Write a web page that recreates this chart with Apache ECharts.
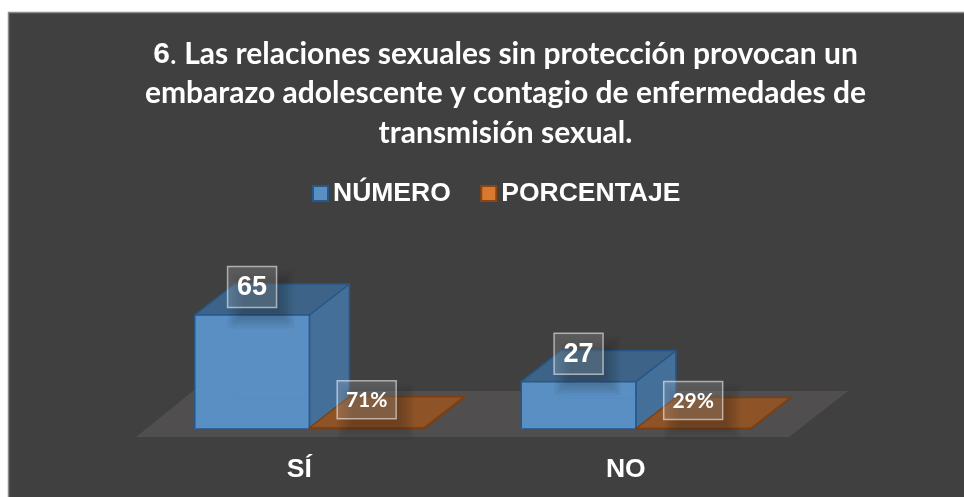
<!DOCTYPE html>
<html>
<head>
<meta charset="utf-8">
<style>html,body{margin:0;padding:0;background:#fff}#c{width:964px;height:497px}</style>
<script src="https://cdn.jsdelivr.net/npm/echarts@6/dist/echarts.min.js"></script>
</head>
<body>
<div id="c"></div>
<script>
const categories = ['SÍ', 'NO'];
const numero = [65, 27];
const porcentaje = [0.71, 0.29];
const seriesNames = ['NÚMERO', 'PORCENTAJE'];

const chart = echarts.init(document.getElementById('c'), null, {renderer: 'canvas'});
const DX = 40, DY = -31;           // depth of the 3D projection
const BAR_FROM = 0.18, BAR_W = 0.351;

function face(points, fill, stroke, lw) {
  return {type: 'polygon', shape: {points}, style: {fill, stroke, lineWidth: lw === undefined ? 1.5 : lw, lineJoin: 'round'}, silent: true};
}
function labelGroup(cx, top, text, w, h, font) {
  const cy = top - 28;
  const out = [];
  // soft shadow under the label
  for (let i = 0; i < 8; i++) {
    const g = 9 - i * 2.2;
    out.push({type: 'rect', shape: {x: cx - w / 2 + 9 - g, y: cy - h / 2 + 12 - g, width: w + 2 * g, height: h + 2 * g, r: 2},
      style: {fill: 'rgba(20,25,35,0.04)'}, silent: true});
  }
  out.push({type: 'rect', shape: {x: cx - w / 2, y: cy - h / 2, width: w, height: h},
    style: {fill: 'rgba(255,255,255,0.15)', stroke: 'rgba(255,255,255,0.55)', lineWidth: 1.5}, silent: true});
  out.push({type: 'text', style: {x: cx, y: cy + 0.5, text, fill: '#fff', font, align: 'center', verticalAlign: 'middle'}, silent: true});
  return out;
}
function boxItem(offset, colors, labelFn, w, h, font) {
  return function (params, api) {
    const cat = api.value(0), val = api.value(1);
    const band = api.size([1, 0])[0];
    const base = api.coord([cat, 0]);
    const topPt = api.coord([cat, val]);
    const bw = band * BAR_W;
    const x0 = base[0] - band / 2 + band * BAR_FROM + offset * bw, x1 = x0 + bw;
    const y0 = base[1], y1 = topPt[1];
    const children = [];
    children.push(face([[x1, y1], [x1 + DX, y1 + DY], [x1 + DX, y0 + DY], [x1, y0]], colors.side, colors.edge));
    children.push(face([[x0, y1], [x0 + DX, y1 + DY], [x1 + DX, y1 + DY], [x1, y1]], colors.top, colors.edge));
    children.push(face([[x0, y1], [x1, y1], [x1, y0], [x0, y0]], colors.front, colors.edge));
    if (colors.inner && y1 < y0 + DY) {
      children.push({type: 'polyline', shape: {points: [[x0, y0], [x0 + DX, y0 + DY], [x1, y0 + DY]]}, style: {stroke: colors.inner, lineWidth: 1, fill: 'none'}, silent: true});
      children.push({type: 'line', shape: {x1: x0 + DX, y1: y1, x2: x0 + DX, y2: y0 + DY}, style: {stroke: colors.inner, lineWidth: 1}, silent: true});
    }
    return {type: 'group', children: children.concat(labelGroup((x0 + x1) / 2, y1, labelFn(val), w, h, font))};
  };
}

const blue = {front: '#5a8fc3', side: '#436f99', top: '#3d6488', edge: '#28578a', inner: 'rgba(80,140,200,0.55)'};
const orange = {front: '#a0581f', side: '#8c5226', top: '#8e5428', edge: '#7c3f11'};

const titleText = '{n|6}{d|.}{t| Las relaciones sexuales sin protección provocan un}\n' +
  '{t|embarazo adolescente y contagio de enfermedades de}\n' +
  '{t|transmisión sexual.}';

chart.setOption({
  animation: false,
  backgroundColor: '#ffffff',
  graphic: [{type: 'rect', z: -10, silent: true, shape: {x: 8.5, y: 12.5, width: 970, height: 500},
    style: {fill: '#404040', stroke: '#8a8a8a', lineWidth: 1.5}}],
  title: {
    text: titleText, left: 500.5, top: 29.5, textAlign: 'center',
    textStyle: {
      rich: {
        n: {fontFamily: 'Liberation Sans', fontWeight: 'bold', fontSize: 30, color: '#fff', lineHeight: 39.5},
        d: {fontFamily: 'Lato', fontWeight: 'normal', fontSize: 30, color: '#fff', lineHeight: 39.5},
        t: {fontFamily: 'Lato', fontWeight: 'bold', fontSize: 30, color: '#fff', lineHeight: 39.5}
      }
    }
  },
  legend: {
    data: seriesNames, left: 312, top: 180, padding: 0, itemWidth: 15, itemHeight: 15, itemGap: 29.5,
    icon: 'rect',
    textStyle: {fontFamily: 'Liberation Sans', fontWeight: 'bold', fontSize: 26.5, color: '#fff', padding: [0, 0, 0, 0]}
  },
  grid: {left: 136, width: 653, top: 253.6, height: 175.4, containLabel: false},
  xAxis: {
    type: 'category', data: categories,
    axisLine: {show: false}, axisTick: {show: false}, splitLine: {show: false},
    axisLabel: {margin: 27, color: '#fff', fontFamily: 'Liberation Sans', fontWeight: 'bold', fontSize: 26.5}
  },
  yAxis: {type: 'value', min: 0, max: 100, show: false},
  series: [
    {
      name: 'floor', type: 'custom', data: [[0, 0]], z: 1, silent: true,
      renderItem: function (params, api) {
        const cs = params.coordSys;
        const yf = cs.y + cs.height + 8;
        return {type: 'polygon', shape: {points: [[cs.x, yf], [cs.x + cs.width, yf], [cs.x + cs.width + 59, yf - 46], [cs.x + 57, yf - 46]]},
          style: {fill: '#504e4e'}, silent: true};
      }
    },
    {
      name: seriesNames[0], type: 'custom', z: 3, silent: true,
      itemStyle: {color: '#5a8fc3', borderColor: '#28578a', borderWidth: 1.5},
      data: numero.map((v, i) => [i, v]),
      encode: {x: 0, y: 1},
      renderItem: boxItem(0, blue, v => String(v), 49, 41, 'bold 27px "Liberation Sans"')
    },
    {
      name: seriesNames[1], type: 'custom', z: 4, silent: true,
      itemStyle: {color: '#d9792f', borderColor: '#8a4513', borderWidth: 1.5},
      data: porcentaje.map((v, i) => [i, v]),
      encode: {x: 0, y: 1},
      renderItem: boxItem(1, orange, v => Math.round(v * 100) + '%', 59, 38, 'bold 21px Lato')
    }
  ]
});
</script>
</body>
</html>
